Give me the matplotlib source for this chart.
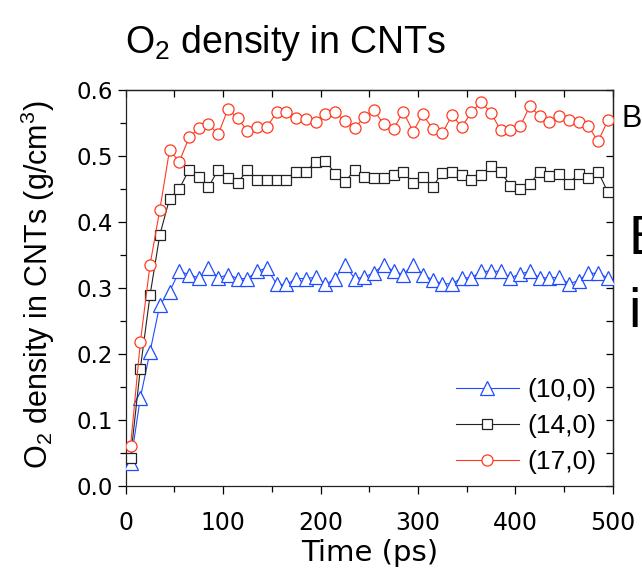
import matplotlib
matplotlib.use("Agg")
import matplotlib.pyplot as plt
from matplotlib.ticker import MultipleLocator, FormatStrFormatter

plt.rcParams.update({
    "font.family": ["Liberation Sans", "DejaVu Sans"],
    "mathtext.default": "regular",
    "axes.linewidth": 0.9,
    "axes.edgecolor": "#222222",
})

# time (ps), one sample every 10 ps
time_ps = [5, 15, 25, 35, 45, 55, 65, 75, 85, 95,
           105, 115, 125, 135, 145, 155, 165, 175, 185, 195,
           205, 215, 225, 235, 245, 255, 265, 275, 285, 295,
           305, 315, 325, 335, 345, 355, 365, 375, 385, 395,
           405, 415, 425, 435, 445, 455, 465, 475, 485, 495]

# O2 density (g/cm3) for each nanotube
cnt_10_0 = [0.034, 0.133, 0.203, 0.274, 0.294, 0.325, 0.320, 0.315, 0.330, 0.315,
            0.320, 0.314, 0.314, 0.325, 0.330, 0.305, 0.305, 0.314, 0.314, 0.316,
            0.305, 0.314, 0.335, 0.314, 0.316, 0.323, 0.335, 0.325, 0.320, 0.335,
            0.320, 0.312, 0.306, 0.306, 0.315, 0.315, 0.325, 0.325, 0.325, 0.315,
            0.321, 0.325, 0.315, 0.315, 0.316, 0.306, 0.311, 0.322, 0.322, 0.315]
cnt_14_0 = [0.042, 0.177, 0.289, 0.380, 0.435, 0.450, 0.479, 0.468, 0.453, 0.479,
            0.466, 0.459, 0.479, 0.464, 0.464, 0.464, 0.464, 0.476, 0.476, 0.491,
            0.493, 0.473, 0.460, 0.479, 0.468, 0.466, 0.466, 0.471, 0.476, 0.459,
            0.468, 0.453, 0.474, 0.475, 0.471, 0.464, 0.471, 0.484, 0.475, 0.455,
            0.450, 0.458, 0.476, 0.469, 0.473, 0.458, 0.473, 0.466, 0.476, 0.445]
cnt_17_0 = [0.060, 0.217, 0.335, 0.418, 0.509, 0.491, 0.528, 0.542, 0.548, 0.533,
            0.571, 0.557, 0.538, 0.544, 0.544, 0.566, 0.566, 0.557, 0.556, 0.552,
            0.564, 0.566, 0.553, 0.542, 0.559, 0.569, 0.548, 0.541, 0.567, 0.537,
            0.563, 0.541, 0.534, 0.562, 0.544, 0.566, 0.582, 0.565, 0.539, 0.540,
            0.545, 0.576, 0.560, 0.552, 0.560, 0.554, 0.552, 0.545, 0.522, 0.554]

labels = ["(10,0)", "(14,0)", "(17,0)"]

BLUE, BLACK, RED = "#1f4cff", "#222222", "#ff3a1f"

fig = plt.figure(figsize=(6.42, 5.71), dpi=100)
ax = fig.add_axes([0.1958, 0.1497, 0.7586, 0.6927])

ax.plot(time_ps, cnt_10_0, color=BLUE, lw=0.8, marker="^", ms=9.5,
        mfc="white", mec=BLUE, mew=0.9, label=labels[0], zorder=3)
ax.plot(time_ps, cnt_14_0, color=BLACK, lw=0.8, marker="s", ms=7.2,
        mfc="white", mec=BLACK, mew=0.9, label=labels[1], zorder=3)
ax.plot(time_ps, cnt_17_0, color=RED, lw=0.8, marker="o", ms=8,
        mfc="white", mec=RED, mew=0.9, label=labels[2], zorder=3)

ax.set_xlim(0, 500)
ax.set_ylim(0, 0.6)
ax.xaxis.set_major_locator(MultipleLocator(100))
ax.xaxis.set_minor_locator(MultipleLocator(50))
ax.yaxis.set_major_locator(MultipleLocator(0.1))
ax.yaxis.set_minor_locator(MultipleLocator(0.05))
ax.yaxis.set_major_formatter(FormatStrFormatter("%.1f"))

ax.tick_params(which="major", direction="out", length=6, width=0.9)
ax.tick_params(which="minor", direction="out", length=4, width=0.9)
ax.tick_params(axis="x", labelsize=17, pad=12)
ax.tick_params(axis="y", labelsize=16.5, pad=3)
for t in ax.get_xticklabels() + ax.get_yticklabels():
    t.set_family("DejaVu Sans")

# inward ticks on top and right
top = ax.secondary_xaxis("top")
top.xaxis.set_major_locator(MultipleLocator(50))
top.tick_params(direction="in", length=5, width=0.9, labeltop=False)
right = ax.secondary_yaxis("right")
right.yaxis.set_major_locator(MultipleLocator(0.05))
right.tick_params(direction="in", length=5, width=0.9, labelright=False)

ax.set_xlabel("Time (ps)", fontsize=21, labelpad=3, family="DejaVu Sans")
fig.text(0.059, 0.502, "O$_2$ density in CNTs (g/cm$^3$)", fontsize=22,
         rotation=90, ha="center", va="center")

ax.legend(loc="upper left", bbox_to_anchor=(0.710, 0.338), bbox_transform=fig.transFigure,
          frameon=False, fontsize=19, handlelength=2.4, handletextpad=0.3,
          labelspacing=0.45, borderpad=0, borderaxespad=0)

fig.text(0.444, 0.907, "O$_2$ density in CNTs", fontsize=27, ha="center", va="baseline")

# fragments of the neighbouring slide at the right edge
fig.text(0.968, 0.792, "B", fontsize=22, ha="left", va="center")
fig.text(0.979, 0.58, "E", fontsize=40, ha="left", va="center")
fig.text(0.979, 0.452, "i", fontsize=40, ha="left", va="center")

fig.savefig("out.png", dpi=100, facecolor="white")
